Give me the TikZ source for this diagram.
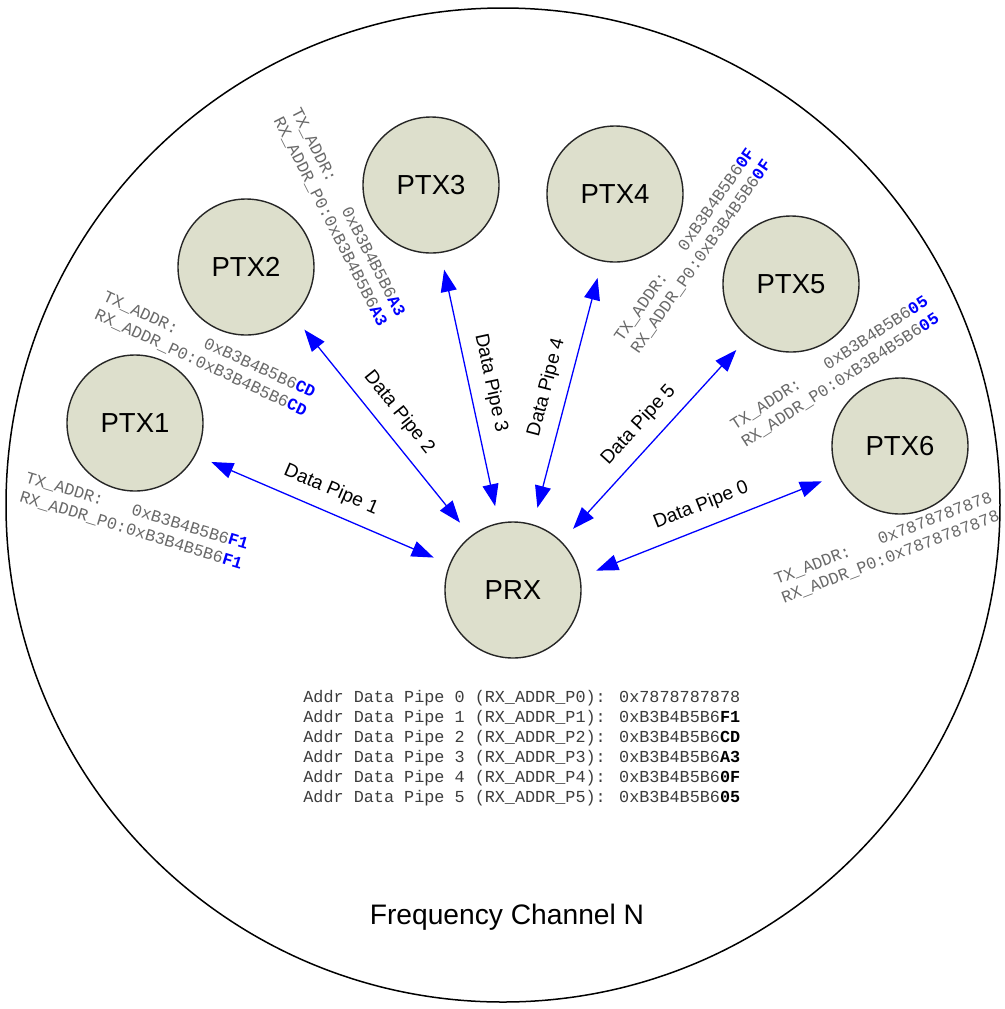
\documentclass[tikz,border=0pt]{standalone}
\usepackage{fontspec}
\setmainfont{Liberation Sans}
\newfontfamily\addrfont{Liberation Mono}
\usetikzlibrary{arrows.meta}
\definecolor{nodefill}{RGB}{221,223,204}
\definecolor{addrgray}{RGB}{105,105,105}
\definecolor{pipeblue}{RGB}{0,0,255}
\definecolor{tablegray}{RGB}{60,60,60}
\newcommand{\hlbyte}[1]{\textcolor{pipeblue}{\bfseries #1}}
\newcommand{\bkbyte}[1]{\textcolor{black}{\bfseries #1}}
\begin{document}
\begin{tikzpicture}[x=0.5pt,y=-0.5pt,
  station/.style={circle, draw=black!85, line width=0.7pt, fill=nodefill, minimum size=68pt, inner sep=0pt, font=\fontsize{13.75}{16}\selectfont},
  pipe/.style={draw=pipeblue, line width=0.65pt, {Triangle[length=11pt,width=8pt]}-{Triangle[length=11pt,width=8pt]}, shorten >=8.5pt, shorten <=8.5pt},
  pipelabel/.style={midway, sloped, above, inner sep=6pt, font=\fontsize{9.6}{11}\selectfont},
  addr/.style={align=left, inner sep=0pt, text=addrgray, font=\addrfont\fontsize{8.4}{10}\selectfont},
]
\useasboundingbox (0,0) rectangle (1005,1009);
\node[circle, draw=black, line width=0.75pt, minimum size=497pt, inner sep=0pt] (channel) at (503,505) {};

\node[station] (PTX1) at (135,423) {PTX1};
\node[station] (PTX2) at (246,267) {PTX2};
\node[station] (PTX3) at (431,185) {PTX3};
\node[station] (PTX4) at (615,194) {PTX4};
\node[station] (PTX5) at (791,284) {PTX5};
\node[station] (PTX6) at (900,446) {PTX6};
\node[station] (PRX) at (513,590) {PRX};

\draw[pipe] (PTX1.-28) -- node[pipelabel] (L1) {Data Pipe 1} (PRX.158);
\draw[pipe] (PTX2.-46) -- node[pipelabel] (L2) {Data Pipe 2} (PRX.128);
\draw[pipe] (PTX3.-82) -- node[pipelabel] (L3) {Data Pipe 3} (PRX.102);
\draw[pipe] (PTX4.-101) -- node[pipelabel] (L4) {Data Pipe 4} (PRX.73);
\draw[pipe] (PTX5.-129) -- node[pipelabel] (L5) {Data Pipe 5} (PRX.45);
\draw[pipe] (PTX6.-155) -- node[pipelabel] (L0) {Data Pipe 0} (PRX.11);

\node[addr, rotate=-17] (A1) at (134,521) {TX\_ADDR:\hphantom{xxx}0xB3B4B5B6\hlbyte{F1}\\RX\_ADDR\_P0:0xB3B4B5B6\hlbyte{F1}};
\node[addr, rotate=-25] (A2) at (205,354) {TX\_ADDR:\hphantom{xxx}0xB3B4B5B6\hlbyte{CD}\\RX\_ADDR\_P0:0xB3B4B5B6\hlbyte{CD}};
\node[addr, rotate=-63] (A3) at (339,217) {TX\_ADDR:\hphantom{xxx}0xB3B4B5B6\hlbyte{A3}\\RX\_ADDR\_P0:0xB3B4B5B6\hlbyte{A3}};
\node[addr, rotate=55] (A4) at (693,251) {TX\_ADDR:\hphantom{xxx}0xB3B4B5B6\hlbyte{0F}\\RX\_ADDR\_P0:0xB3B4B5B6\hlbyte{0F}};
\node[addr, rotate=33] (A5) at (835,372) {TX\_ADDR:\hphantom{xxx}0xB3B4B5B6\hlbyte{05}\\RX\_ADDR\_P0:0xB3B4B5B6\hlbyte{05}};
\node[addr, rotate=21] (A6) at (887,548) {TX\_ADDR:\hphantom{xxx}0x7878787878\\RX\_ADDR\_P0:0x7878787878};

\node[addr, text=tablegray, anchor=west] (table) at (303,748) {%
Addr Data Pipe 0 (RX\_ADDR\_P0): 0x7878787878\\
Addr Data Pipe 1 (RX\_ADDR\_P1): 0xB3B4B5B6\bkbyte{F1}\\
Addr Data Pipe 2 (RX\_ADDR\_P2): 0xB3B4B5B6\bkbyte{CD}\\
Addr Data Pipe 3 (RX\_ADDR\_P3): 0xB3B4B5B6\bkbyte{A3}\\
Addr Data Pipe 4 (RX\_ADDR\_P4): 0xB3B4B5B6\bkbyte{0F}\\
Addr Data Pipe 5 (RX\_ADDR\_P5): 0xB3B4B5B6\bkbyte{05}};

\node[font=\fontsize{14.1}{17}\selectfont] (title) at (507,917) {Frequency Channel N};
\end{tikzpicture}
\end{document}
